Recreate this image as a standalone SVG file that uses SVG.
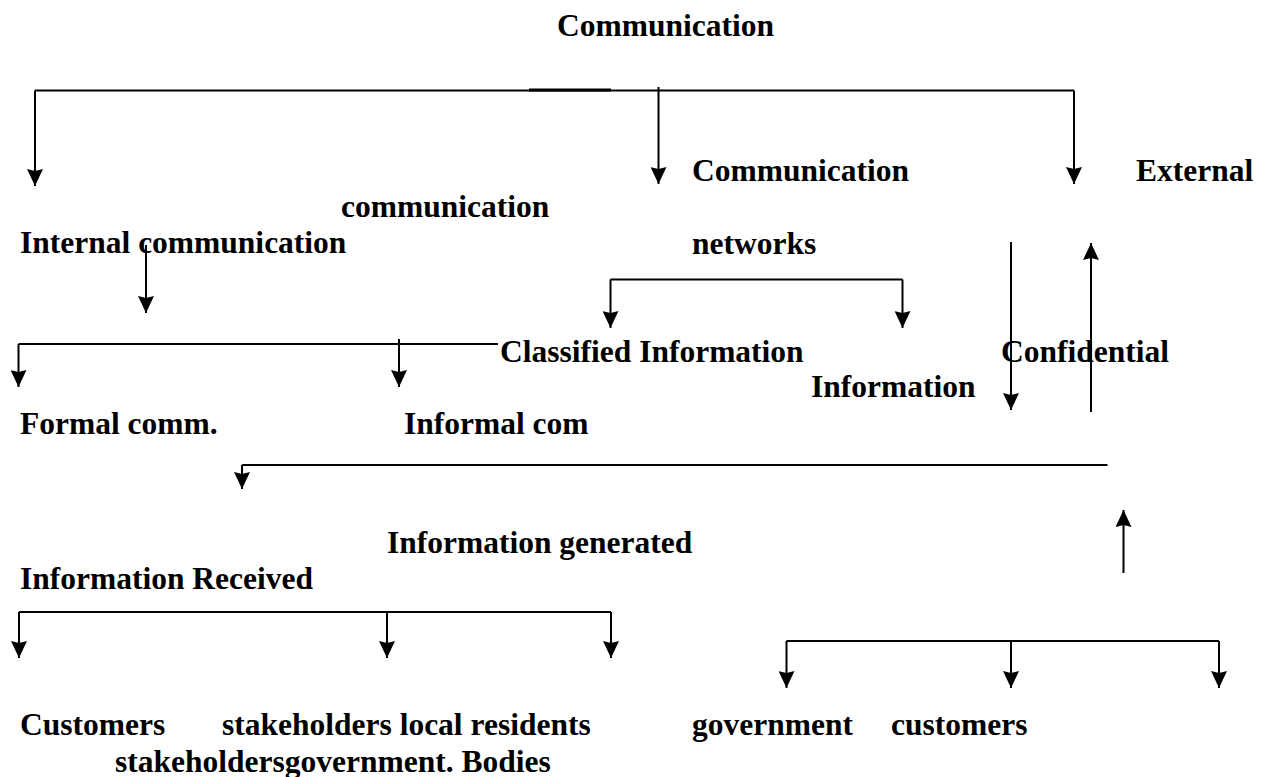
<svg xmlns="http://www.w3.org/2000/svg" width="1264" height="777" viewBox="0 0 1264 777">
<style>
text{font-family:"Liberation Serif","Times New Roman",serif;font-weight:bold;font-size:31.5px;fill:#000}
.ln{stroke:#000;stroke-width:2;fill:none}
.ar{stroke:#000;stroke-width:2;fill:none;marker-end:url(#ah)}
</style>
<defs>
<marker id="ah" viewBox="0 0 17 16" refX="17" refY="8" markerWidth="17" markerHeight="16" markerUnits="userSpaceOnUse" orient="auto">
<path d="M0,0 L17,8 L0,16 L2,8 z" fill="#000"/>
</marker>
</defs>
<rect width="1264" height="777" fill="#fff"/>
<g id="connectors">
<path class="ln" d="M35,90.5 H1074"/>
<path d="M529,90 H611" stroke="#000" stroke-width="3"/>
<path class="ar" d="M35,90.5 V186"/>
<path class="ar" d="M658.5,87 V184"/>
<path class="ar" d="M1074,90.5 V184"/>
<path class="ar" d="M146,245 V313"/>
<path class="ln" d="M18.5,344 H498"/>
<path class="ar" d="M18.5,344 V387"/>
<path class="ar" d="M399,339 V387"/>
<path class="ln" d="M610.5,279.5 H902.5"/>
<path class="ar" d="M610.5,279.5 V328"/>
<path class="ar" d="M902.5,279.5 V328"/>
<path class="ar" d="M1011,242 V410"/>
<path class="ar" d="M1091,412 V243"/>
<path class="ln" d="M242,465 H1107.5"/>
<path class="ar" d="M242,465 V489"/>
<path class="ar" d="M1123.5,573 V510"/>
<path class="ln" d="M19,612 H611"/>
<path class="ar" d="M19,612 V658"/>
<path class="ar" d="M387,612 V658"/>
<path class="ar" d="M611,612 V658"/>
<path class="ln" d="M786.5,641 H1219"/>
<path class="ar" d="M786.5,641 V688"/>
<path class="ar" d="M1011,641 V688"/>
<path class="ar" d="M1219,641 V688"/>
</g>
<g id="n-title"><text x="557" y="36">Communication</text></g>
<g id="n-comm-networks"><text x="692" y="181">Communication</text><text x="692" y="254">networks</text></g>
<g id="n-external"><text x="1136" y="181">External</text></g>
<g id="n-communication"><text x="341" y="217">communication</text></g>
<g id="n-internal"><text x="20" y="253">Internal communication</text></g>
<g id="n-classified"><text x="500" y="362">Classified Information</text></g>
<g id="n-confidential"><text x="1001" y="362">Confidential</text><text x="811" y="397">Information</text></g>
<g id="n-formal"><text x="20" y="434">Formal comm.</text></g>
<g id="n-informal"><text x="404" y="434">Informal com</text></g>
<g id="n-generated"><text x="387" y="553">Information generated</text></g>
<g id="n-received"><text x="20" y="589">Information Received</text></g>
<g id="n-customers"><text x="20" y="735">Customers</text></g>
<g id="n-stakeholders"><text x="222" y="735">stakeholders local residents</text></g>
<g id="n-stakeholders2"><text x="115" y="772">stakeholdersgovernment. Bodies</text></g>
<g id="n-government"><text x="692" y="735">government</text></g>
<g id="n-customers2"><text x="891" y="735">customers</text></g>
</svg>
